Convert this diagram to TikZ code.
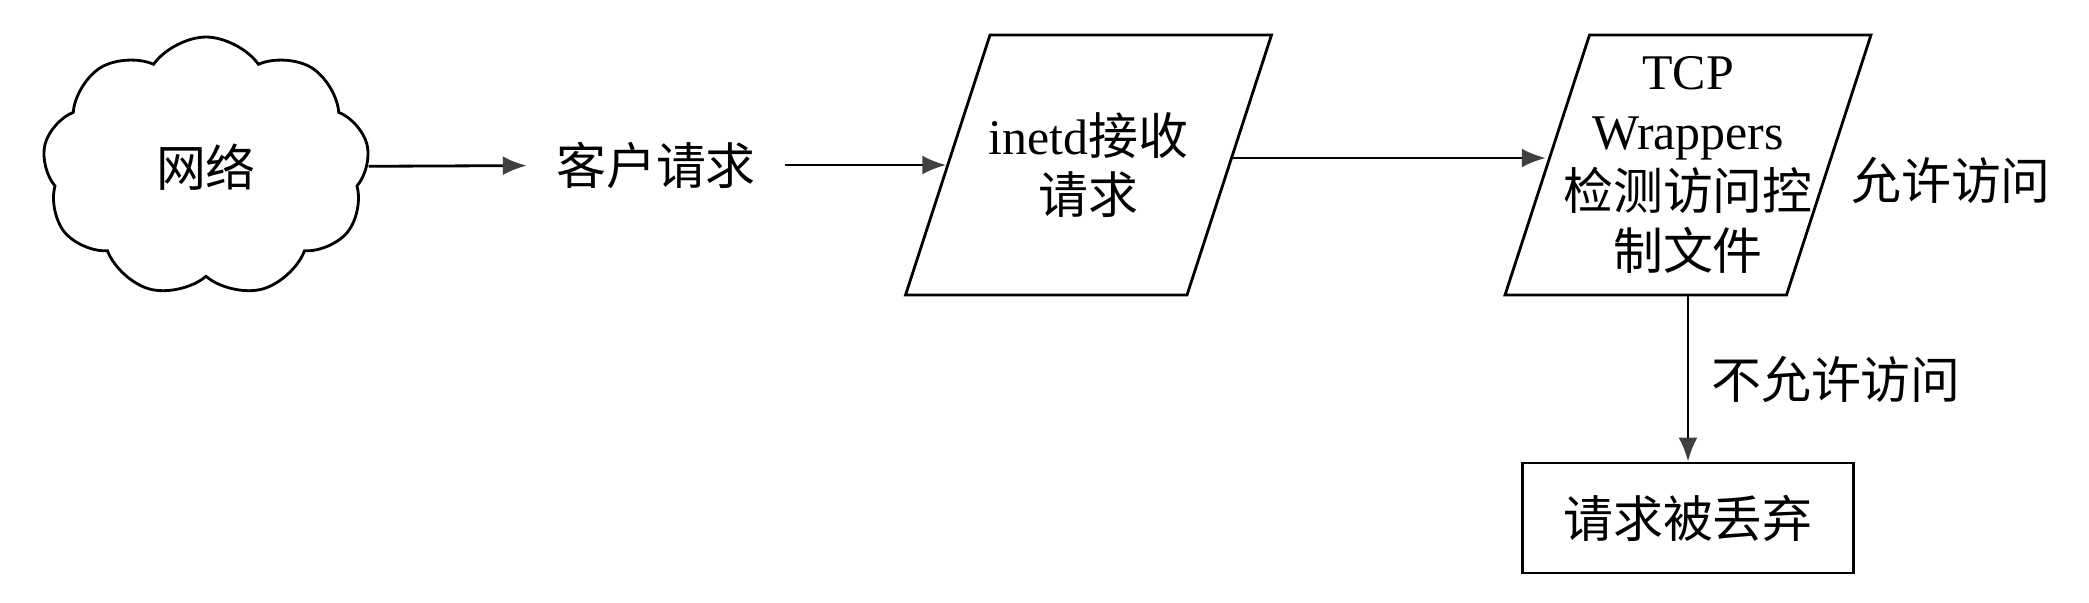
\documentclass[tikz,border=0pt]{standalone}
\usepackage{fontspec}
\setmainfont{Liberation Serif}
\newfontfamily\cjk{Noto Sans CJK SC}
\usetikzlibrary{arrows.meta, shapes.geometric, shapes.symbols,
positioning }
\tikzset{%
>={Latex[width=1.9mm,length=2.4mm,color=black!75]},
  % Specifications for style of nodes:
            base/.style = {draw=black, line width=0.8pt, align=center,
                            font=\fontsize{14.2}{17}\selectfont},
            netcloud/.style = {base, cloud, cloud puffs=9, cloud puff arc=110,
                            cloud ignores aspect, minimum width=3.27cm,
                            minimum height=2.6cm, font=\cjk\fontsize{14.2}{17}\selectfont},
            iobox/.style = {base, trapezium, trapezium left angle=72,
                            trapezium right angle=108, minimum width=0pt,
                            minimum height=0pt, inner xsep=0.985cm, inner ysep=1.3cm},
            iotext/.style = {align=center, inner sep=0pt,
                            font=\fontsize{14.2}{17}\selectfont},
            msg/.style = {font=\cjk\fontsize{14.2}{17}\selectfont, inner sep=0.28cm}
}
\begin{document}
\begin{tikzpicture}[node distance=4.5cm, line width=0.8pt]
                        \useasboundingbox (0,0) rectangle (20.89,-6.02);
                        \node[netcloud] (net) at (2.06,-1.67){网络};
                        \node[msg] (req)[right of=net, yshift=0.02cm]{客户请求};
                        \node[iobox, label={[iotext]center:inetd{\cjk 接收}\\{\cjk 请求}}] (inetd)[right of=req, xshift=-0.175cm]{};
                        \node[iobox, label={[iotext]center:TCP\\Wrappers\\{\cjk 检测访问控}\\{\cjk 制文件}}] (tcp)[right of=inetd, xshift=1.495cm]{};
                        \node[msg] (allow)[right of=tcp, xshift=-1.87cm, yshift=-0.15cm]{允许访问};
                        \node[base, font=\cjk\fontsize{14.2}{17}\selectfont, minimum width=3.31cm,
                              minimum height=1.1cm] (drop)[below of=tcp, yshift=0.97cm]{请求被丢弃};
                        \node[msg] (deny)[below of=tcp, xshift=1.48cm, yshift=2.36cm]{不允许访问};
                        \draw[->] (net) -- (req);
                        \draw[->] (req) -- (inetd);
                        \draw[->] ([yshift=0.07cm]inetd.east) -- ([yshift=0.07cm]tcp.west);
                        \draw[->] (tcp) -- (drop);
                    \end{tikzpicture}
\end{document}
